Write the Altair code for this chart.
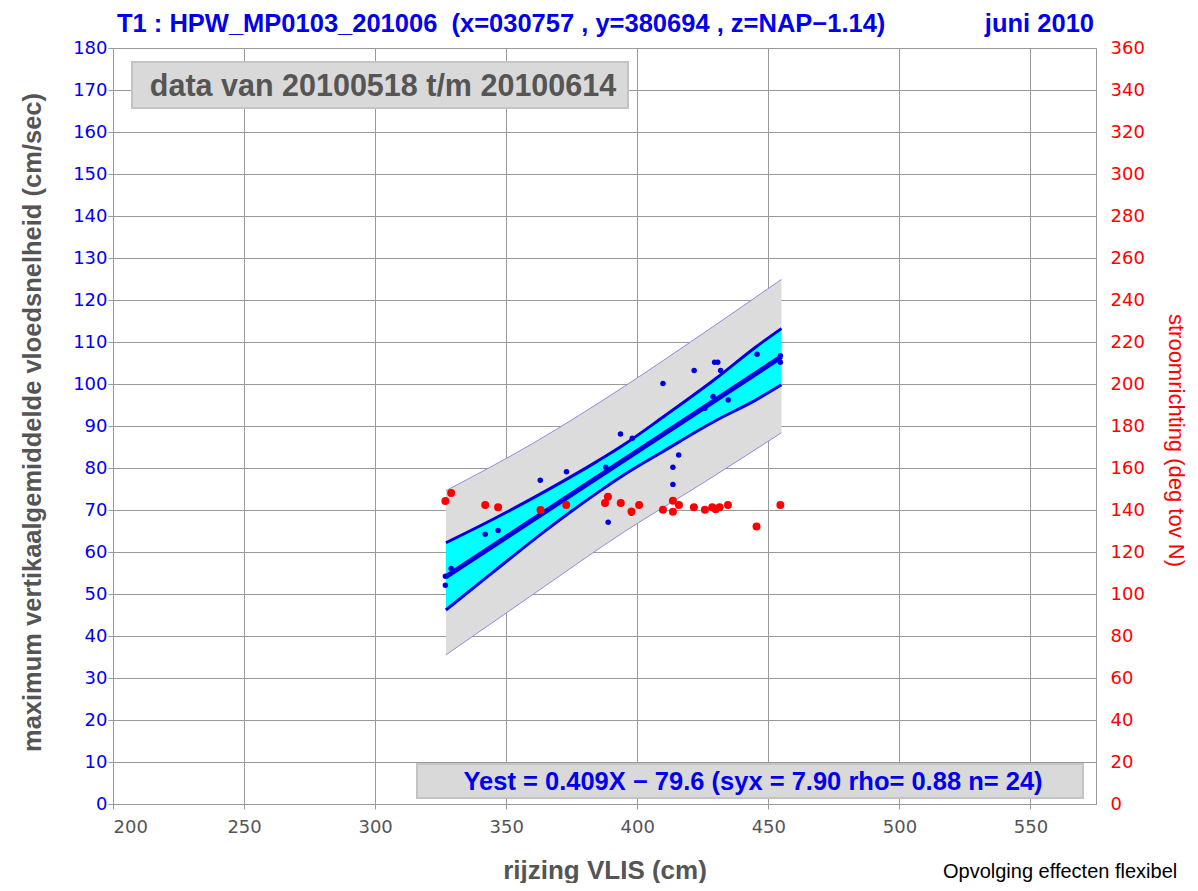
import altair as alt
import pandas as pd

# ---- data ----
blue_x = [326.8, 326.8, 329.0, 342.0, 346.9, 363.0, 373.0, 388.0, 388.9, 393.6, 397.8, 398.1, 409.8,
          413.6, 413.6, 415.8, 421.7, 425.8, 428.9, 429.5, 430.7, 431.8, 434.7, 445.7, 454.6, 454.6]
blue_y = [54.2, 52.1, 56.1, 64.2, 65.1, 77.1, 79.1, 80.2, 67.1, 88.1, 69.2, 87.1, 100.1,
          80.2, 76.1, 83.1, 103.2, 94.2, 97.0, 105.2, 105.2, 103.2, 96.2, 107.1, 106.7, 105.2]

red_x = [326.8, 329.0, 342.0, 346.9, 363.1, 372.9, 387.7, 388.8, 393.7, 397.8, 400.7, 409.8,
         413.6, 413.6, 415.9, 421.6, 425.8, 428.6, 429.9, 431.4, 434.6, 445.5, 454.6]
red_y = [144.3, 148.1, 142.4, 141.3, 140.0, 142.4, 143.3, 146.3, 143.3, 139.3, 142.4, 140.1,
         144.4, 139.2, 142.4, 141.3, 140.1, 141.3, 140.3, 141.3, 142.4, 132.2, 142.4]

reg_x = [327, 455]
reg_y = [54.1, 106.5]

conf_x = [327, 345, 365, 385, 395, 410, 430, 445, 455]
conf_lo = [46.2, 55.2, 65.1, 74.2, 78.4, 84.0, 91.3, 96.1, 99.8]
conf_hi = [62.2, 67.8, 74.5, 81.7, 85.6, 92.2, 101.3, 108.7, 113.2]

pred_x = [327, 360, 395, 425, 455]
pred_lo = [35.5, 49.8, 64.8, 76.4, 88.4]
pred_hi = [74.6, 85.8, 99.4, 112.0, 124.9]

x_ticks = [200, 250, 300, 350, 400, 450, 500, 550]
y_ticks = list(range(0, 181, 10))
r_ticks = list(range(0, 361, 20))

title_left = "T1 : HPW_MP0103_201006 \u00a0(x=030757 , y=380694 , z=NAP\u22121.14)"
title_right = "juni 2010"
data_label = "data van 20100518 t/m 20100614"
eq_label = "Yest = 0.409X \u2212 79.6 (syx = 7.90 rho= 0.88 n= 24)"
footer = "Opvolging effecten flexibel"

BLUE = "#0000ee"
RED = "#ff0000"
GRAY_TXT = "#555555"
TICKFONT = "DejaVu Sans"
TFONT = "Liberation Sans"

blue_df = pd.DataFrame({"x": blue_x, "v": blue_y})
red_df = pd.DataFrame({"x": red_x, "r": red_y})
reg_df = pd.DataFrame({"x": reg_x, "v": reg_y})
conf_df = pd.DataFrame({"x": conf_x, "lo": conf_lo, "hi": conf_hi})
pred_df = pd.DataFrame({"x": pred_x, "lo": pred_lo, "hi": pred_hi})

xs = alt.Scale(domain=[200, 575], nice=False, zero=False)
ys = alt.Scale(domain=[0, 180], nice=False, zero=False)
rs = alt.Scale(domain=[0, 360], nice=False, zero=False)

xaxis = alt.Axis(values=x_ticks, title="rijzing VLIS (cm)", labelColor=GRAY_TXT,
                 labelFont=TICKFONT, labelFontSize=18, labelPadding=9, tickSize=5,
                 tickColor="#999999", domainColor="#999999", gridColor="#999999",
                 gridOpacity=1, grid=True, titleFont=TFONT, titleFontSize=26,
                 titleFontWeight="bold", titleColor=GRAY_TXT, titleY=66,
                 titleBaseline="middle")
yaxis = alt.Axis(values=y_ticks, title="maximum vertikaalgemiddelde vloedsnelheid (cm/sec)",
                 labelColor=BLUE, labelFont=TICKFONT, labelFontSize=18, labelPadding=1,
                 tickSize=5, tickColor="#999999", domainColor="#999999",
                 gridColor="#999999", gridOpacity=1, grid=True, titleFont=TFONT,
                 titleFontSize=25.5, titleFontWeight="bold", titleColor=GRAY_TXT,
                 titleX=-81, titleY=374, titleBaseline="middle", titleAngle=270)
raxis = alt.Axis(values=r_ticks, orient="right", title="stroomrichting (deg tov N)",
                 labelColor=RED, labelFont=TICKFONT, labelFontSize=18, labelPadding=14,
                 tickSize=0, domainColor="#999999", grid=False, titleFont=TFONT,
                 titleFontSize=22, titleFontWeight="normal", titleColor=RED,
                 titleX=79, titleY=392, titleBaseline="middle", titleAngle=90)

X = alt.X("x:Q", scale=xs, axis=xaxis)

pred_area = alt.Chart(pred_df).mark_area(color="#dcdcdc", opacity=1, interpolate="monotone").encode(
    x=X, y=alt.Y("lo:Q", scale=ys, axis=yaxis), y2="hi:Q")
pred_lo_line = alt.Chart(pred_df).mark_line(color="#8c8cdc", strokeWidth=1, interpolate="monotone").encode(
    x=X, y=alt.Y("lo:Q", scale=ys, axis=yaxis))
pred_hi_line = alt.Chart(pred_df).mark_line(color="#8c8cdc", strokeWidth=1, interpolate="monotone").encode(
    x=X, y=alt.Y("hi:Q", scale=ys, axis=yaxis))
conf_area = alt.Chart(conf_df).mark_area(color="#00ffff", opacity=1, interpolate="monotone").encode(
    x=X, y=alt.Y("lo:Q", scale=ys, axis=yaxis), y2="hi:Q")
conf_lo_line = alt.Chart(conf_df).mark_line(color="#0000dd", strokeWidth=3, interpolate="monotone").encode(
    x=X, y=alt.Y("lo:Q", scale=ys, axis=yaxis))
conf_hi_line = alt.Chart(conf_df).mark_line(color="#0000dd", strokeWidth=3, interpolate="monotone").encode(
    x=X, y=alt.Y("hi:Q", scale=ys, axis=yaxis))
reg_line = alt.Chart(reg_df).mark_line(color="#0000dd", strokeWidth=5).encode(
    x=X, y=alt.Y("v:Q", scale=ys, axis=yaxis))
blue_pts = alt.Chart(blue_df).mark_circle(color="#0000dd", size=30, opacity=1).encode(
    x=X, y=alt.Y("v:Q", scale=ys, axis=yaxis))

one = alt.Data(values=[{"a": 1}])
box1 = alt.Chart(one).mark_rect(fill="#d9d9d9", stroke="#c4c4c4", strokeWidth=2).encode(
    x=alt.value(19), x2=alt.value(515), y=alt.value(14), y2=alt.value(60))
txt1 = alt.Chart(one).mark_text(text=data_label, font=TFONT, fontSize=30.5, fontWeight="bold",
                                color=GRAY_TXT, align="center", baseline="middle").encode(
    x=alt.value(270), y=alt.value(39))
box2 = alt.Chart(one).mark_rect(fill="#d9d9d9", stroke="#c4c4c4", strokeWidth=2).encode(
    x=alt.value(304), x2=alt.value(970), y=alt.value(716), y2=alt.value(750))
txt2 = alt.Chart(one).mark_text(text=eq_label, font=TFONT, fontSize=25.5, fontWeight="bold",
                                color=BLUE, align="center", baseline="middle").encode(
    x=alt.value(640), y=alt.value(734))
ttl1 = alt.Chart(one).mark_text(text=title_left, font=TFONT, fontSize=25.5, fontWeight="bold",
                                color=BLUE, align="left", baseline="middle").encode(
    x=alt.value(4), y=alt.value(-24))
ttl2 = alt.Chart(one).mark_text(text=title_right, font=TFONT, fontSize=25.5, fontWeight="bold",
                                color=BLUE, align="right", baseline="middle").encode(
    x=alt.value(981), y=alt.value(-24))
foot = alt.Chart(one).mark_text(text=footer, font=TFONT, fontSize=20, color="#000000",
                                align="left", baseline="top").encode(
    x=alt.value(830), y=alt.value(814))

left = alt.layer(pred_area, pred_lo_line, pred_hi_line, conf_area, conf_lo_line,
                 conf_hi_line, reg_line, blue_pts)

red_pts = alt.Chart(red_df).mark_circle(color=RED, size=64, opacity=1).encode(
    x=X, y=alt.Y("r:Q", scale=rs, axis=raxis))

annot = alt.layer(box1, txt1, box2, txt2, ttl1, ttl2, foot)

chart = alt.layer(left, red_pts, annot).resolve_scale(y="independent").properties(
    width=983, height=756,
    autosize=alt.AutoSizeParams(type="none"),
    padding={"left": 105, "top": 40, "right": 94, "bottom": 79},
).configure_view(stroke="#999999", strokeWidth=1).configure(background="white")

chart.save("out.html", embed_options={"renderer": "svg", "actions": False})
